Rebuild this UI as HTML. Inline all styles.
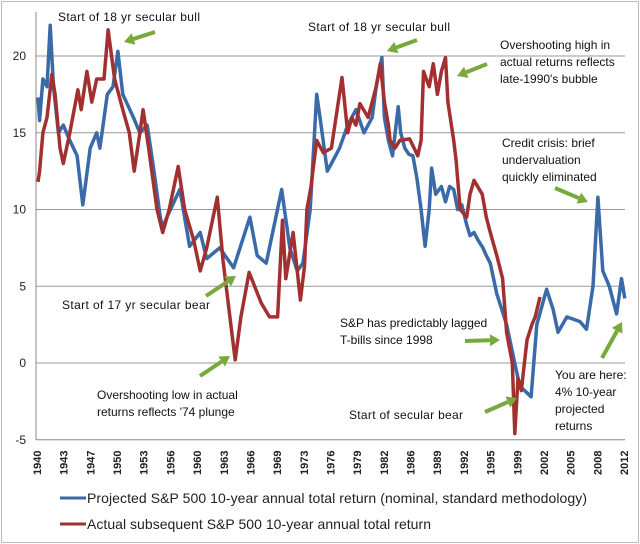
<!DOCTYPE html>
<html><head><meta charset="utf-8"><style>
html,body{margin:0;padding:0;background:#fff}
svg{display:block;font-family:"Liberation Sans",sans-serif}
</style></head><body>
<svg id="chart" width="640" height="544" viewBox="0 0 640 544">
<rect x="1.5" y="1.5" width="637" height="541" fill="#fff" stroke="#bbb"/>
<g id="grid"></g>
<g id="yticks" font-size="12" fill="#222"></g>
<g id="xticks" font-size="11" font-weight="bold" fill="#222"></g>
<g id="series"></g>
<g id="notes" font-size="12" fill="#111"></g>
<g>
<line x1="60" y1="498" x2="86" y2="498" stroke="#3a6aa8" stroke-width="3"/>
<text x="87" y="503" font-size="14" fill="#222" textLength="500">Projected S&amp;P 500 10-year annual total return (nominal, standard methodology)</text>
<line x1="60" y1="524" x2="86" y2="524" stroke="#a33030" stroke-width="3"/>
<text x="87" y="529" font-size="14" fill="#222" textLength="344">Actual subsequent S&amp;P 500 10-year annual total return</text>
</g>
</svg>
<script>
const yTicks=[20,15,10,5,0,-5];
const xTickLabels=[1940,1943,1947,1950,1953,1956,1960,1963,1966,1969,1973,1976,1979,1982,1986,1989,1992,1995,1999,2002,2005,2008,2012];
const projYears=[1940,1940.2,1940.6,1941.1,1941.5,1941.9,1942.5,1943.1,1943.9,1944.8,1945.5,1946.4,1947.2,1947.6,1948.5,1949.2,1949.8,1950.4,1951.7,1952.5,1953.4,1954.1,1955,1955.3,1955.8,1957.4,1958.6,1959.9,1960.7,1962.3,1964,1966,1966.9,1968,1969.9,1970.9,1971.8,1972.5,1973.4,1974.2,1974.6,1975.5,1976,1977,1978,1979,1980,1981,1981.5,1982.2,1982.5,1983,1983.5,1984.2,1984.5,1985,1985.5,1986,1986.5,1987,1987.5,1988,1988.3,1988.8,1989.5,1990,1990.5,1991,1991.5,1992,1992.6,1993,1993.5,1994,1994.6,1995,1995.5,1996.3,1997.5,1998.3,1999.1,2000.1,2000.5,2001.2,2002.4,2003.2,2003.8,2004.9,2006.5,2007.3,2008.1,2008.7,2009.3,2010.1,2011,2011.6,2012];
const projValues=[17.3,15.8,18.5,18,22,18,15,15.5,14.5,13.5,10.3,14,15,14,17.5,18,20.3,17.5,16,15,15.5,13,9.5,8.8,9.5,11.3,7.6,8.5,6.8,7.5,6.2,9.5,7,6.5,11.3,7.5,6,6.5,10,17.5,16,12.5,13,14,15.5,16.5,15,16,18,19.9,16,14.5,13.5,16.7,15,14,13.6,13.5,12,10,7.6,10,12.7,11,11.5,10.5,11.5,11.3,10,10.3,9,8.3,8.5,8,7.5,7,6.5,4.5,2.5,0.5,-1.5,-2,-2.2,2.5,4.8,3.5,2,3,2.7,2.2,5,10.8,6,5,3.2,5.5,4.2];
const actYears=[1940,1940.2,1940.6,1941.1,1941.7,1942.1,1942.7,1943.1,1943.9,1944.9,1945.3,1946,1946.6,1947.2,1948.1,1948.6,1949.4,1950.4,1951.2,1951.8,1952.5,1952.9,1953.7,1954.6,1955.3,1956.1,1957.2,1958,1959.1,1959.9,1960.7,1962,1962.7,1963.7,1964.2,1964.9,1965.9,1967.4,1968.4,1969.4,1970,1970.4,1971.3,1972.2,1972.7,1973,1973.5,1974.2,1975,1976,1977.3,1978,1978.5,1979,1979.5,1980.5,1981,1981.5,1982,1982.5,1983,1983.2,1983.8,1984.4,1985.6,1986.6,1987,1987.3,1988,1988.5,1989,1989.5,1990,1990.3,1991,1991.3,1991.8,1992.6,1993,1993.5,1994.5,1995,1995.5,1996.3,1997,1997.5,1998.2,1998.5,1998.9,1999.3,2000,2000.6,2001,2001.6,2002];
const actValues=[11.8,12.5,15,16,18.8,17.5,14,13,15,17.8,16.5,19,17,18.5,18.5,21.7,18.5,16.5,15,12.5,15,16.5,13.5,10,8.5,10,12.8,10,8,6,7.5,10.8,6.7,2.3,0.2,3,5.9,3.9,3,3,9.3,5.5,8.5,4.1,6.3,10,11.5,14.5,13.7,14,18.6,15,16,15.5,16.9,16,17,18,19.5,17,15.5,14.5,14,14.5,14.6,13.5,14.5,19,18,19.5,17.5,19,19.9,17,14.5,13.2,10,9.5,11,11.9,11,9.5,8.5,7,5.5,2,0,-4.6,-1,-1.8,1.5,2.5,3,4.3];

const NS='http://www.w3.org/2000/svg';
const X=yr=>38+(yr-1940)*8.15;
const Y=v=>363-v*15.35;
function mk(tag,attrs,parent){const e=document.createElementNS(NS,tag);for(const k in attrs)e.setAttribute(k,attrs[k]);parent.appendChild(e);return e;}
const grid=document.getElementById('grid'),yt=document.getElementById('yticks'),xt=document.getElementById('xticks');
yTicks.forEach(v=>{
  const l=mk('line',{x1:36,x2:625,y1:Y(v),y2:Y(v),stroke:v===-5?'#888':'#999','stroke-width':1},grid);
  
  
  const t=mk('text',{x:26,y:Y(v)+4,'text-anchor':'end'},yt);
  t.textContent=v;
  
  
});
const ax=mk('line',{x1:36,x2:36,y1:12,y2:440,stroke:'#888'},grid);


xTickLabels.forEach((yr,i)=>{
  const x=37+i*(587/22);
  const t=mk('text',{x:0,y:0,transform:`translate(${x+4},475) rotate(-90)`},xt);
  t.textContent=yr;
  
  
});
const ser=document.getElementById('series');
function line(xs,vs,color,name){
  const d=xs.map((yr,i)=>(i?'L':'M')+X(yr).toFixed(1)+','+Y(vs[i]).toFixed(1)).join('');
  const p=mk('path',{d,fill:'none',stroke:color,'stroke-width':3.5,'stroke-linejoin':'round'},ser);
  
  
}
line(projYears,projValues,'#3a6aa8','projected-return-line');
line(actYears,actValues,'#a33030','actual-return-line');

const notes=document.getElementById('notes');
const texts=[
 [58,21,['Start of 18 yr secular bull'],142],
 [308,31,['Start of 18 yr secular bull'],142],
 [500,49,['Overshooting high in','actual returns reflects','late-1990\'s bubble'],0],
 [502,147,['Credit crisis: brief','undervaluation','quickly eliminated'],0],
 [62,309,['Start of  17 yr secular bear'],148],
 [97,399,['Overshooting low in actual','returns reflects \'74 plunge'],0],
 [340,327,['S&P has predictably lagged','T-bills since 1998'],0],
 [349,419,['Start of secular bear'],114],
 [555,379,['You are here:','4% 10-year','projected','returns'],0]
];
texts.forEach(([x,y,lines,w])=>{
  lines.forEach((s,i)=>{
    const t=mk('text',{x,y:y+i*17},notes);
    if(w)t.setAttribute('textLength',w);
    t.textContent=s;
    
    
  });
});
const arrows=[[155,32,124,42],[417,40,387,51],[487,64,457,76],[555,188,588,202],[206,296,236,276],[200,376,230,356],[465,341,500,340],[485,412,517,398],[602,358,622,322]];
arrows.forEach(([x1,y1,x2,y2])=>{
  const g=mk('g',{},notes);
  
  
  const a=Math.atan2(y2-y1,x2-x1),L=10,W=6;
  const bx=x2-L*Math.cos(a),by=y2-L*Math.sin(a);
  mk('line',{x1,y1,x2:bx,y2:by,stroke:'#79a83c','stroke-width':4},g);
  const px=-Math.sin(a)*W,py=Math.cos(a)*W;
  mk('polygon',{points:`${x2},${y2} ${bx+px},${by+py} ${bx-px},${by-py}`,fill:'#79a83c'},g);
});
</script>
</body></html>
